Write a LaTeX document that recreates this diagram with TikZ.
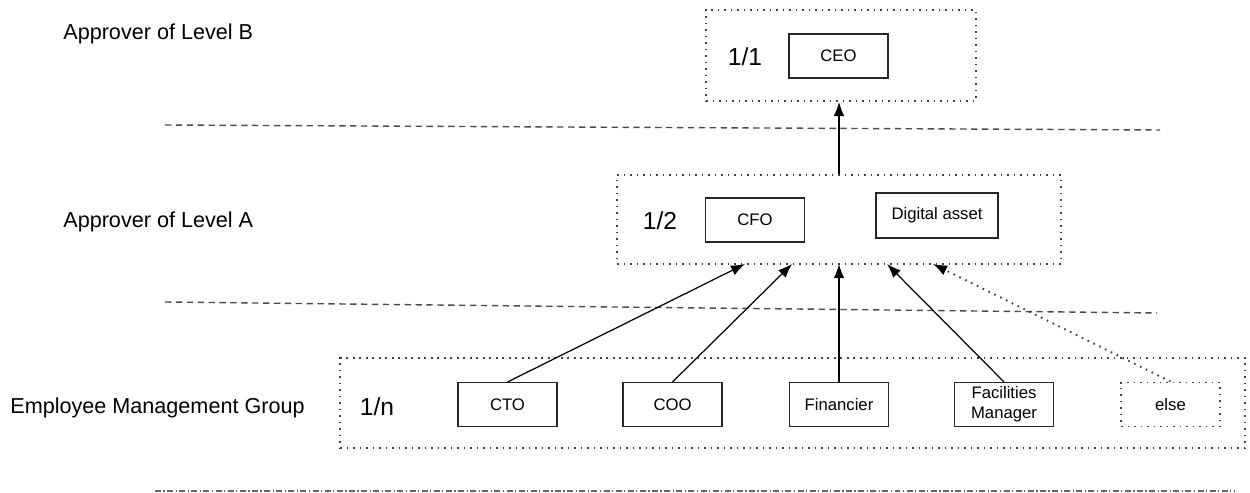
\documentclass[tikz,border=0pt]{standalone}
\usepackage{fontspec}
\setmainfont{Liberation Sans}
\usetikzlibrary{arrows.meta}
\begin{document}
\begin{tikzpicture}[x=0.02cm,y=-0.02cm,
  dots/.style={line width=1.1pt, dash pattern=on 0.9pt off 2.8pt},
  dotbox/.style={draw=black!75, dots, minimum width=#1, inner sep=0pt},
  itembox/.style={draw=black!85, line width=0.6pt, minimum width=1.98cm, minimum height=0.88cm, inner sep=1pt, font=\fontsize{9.5}{11.5}\selectfont, align=center},
  lvl/.style={anchor=west, font=\fontsize{12.3}{14}\selectfont, inner sep=0pt},
  frac/.style={font=\fontsize{14}{16}\selectfont, inner sep=0pt},
  sep/.style={draw=black!70, line width=0.8pt, dash pattern=on 3.6pt off 2.6pt},
  arr/.style={draw=black, line width=0.7pt, -{Latex[length=8pt,width=6pt]}},
  darr/.style={draw=black!75, dots, -{Latex[length=8pt,width=6pt,line width=0.7pt,color=black]}}]
\useasboundingbox (0,0) rectangle (1250,493);
% level labels
\node[lvl] (lb) at (63,34) {Approver of Level B};
\node[lvl] (la) at (63,222) {Approver of Level A};
\node[lvl] (le) at (10,408) {Employee Management Group};
% separators
\draw[sep] (165,125) -- (1160,130);
\draw[sep] (165,302) -- (1157,313);
\draw[draw=black!60, line width=0.9pt, dash pattern=on 3.4pt off 1.4pt on 0.7pt off 1.4pt] (155,491) -- (1235,491);
% level B
\node[dotbox=5.4cm, minimum height=1.82cm] (outerB) at (841,55.5) {};
\node[frac] (fb) at (745,57) {1/1};
\node[itembox] (ceo) at (838.5,56) {CEO};
% level A
\node[dotbox=8.88cm, minimum height=1.78cm] (outerA) at (839,219.5) {};
\node[frac] (fa) at (660,221) {1/2};
\node[itembox] (cfo) at (755,220) {CFO};
\node[itembox, minimum width=2.44cm, minimum height=0.9cm] (dig) at (937,215.5) {Digital asset};
% employee group
\node[dotbox=18.1cm, minimum height=1.8cm] (outerE) at (792.5,403) {};
\node[frac] (fe) at (377,407) {1/n};
\node[itembox] (cto) at (507.5,404.5) {CTO};
\node[itembox] (coo) at (672.5,404.5) {COO};
\node[itembox] (fin) at (839,404.5) {Financier};
\node[itembox] (fac) at (1004,404.5) {Facilities\\Manager};
\node[itembox, draw=black!75, dots] (els) at (1170.5,404.5) {else};
% targets
\coordinate (t1) at (745,264);
\coordinate (t2) at (792,264);
\coordinate (t3) at (839,264);
\coordinate (t4) at (887,264);
\coordinate (t5) at (933,264);
\draw[arr] (cto.north) -- (t1);
\draw[arr] (coo.north) -- (t2);
\draw[arr] (fin.north) -- (t3);
\draw[arr] (fac.north) -- (t4);
\draw[darr] (els.north) -- (t5);
\draw[arr] (outerA.north) -- (outerA.north |- outerB.south);
\end{tikzpicture}
\end{document}
